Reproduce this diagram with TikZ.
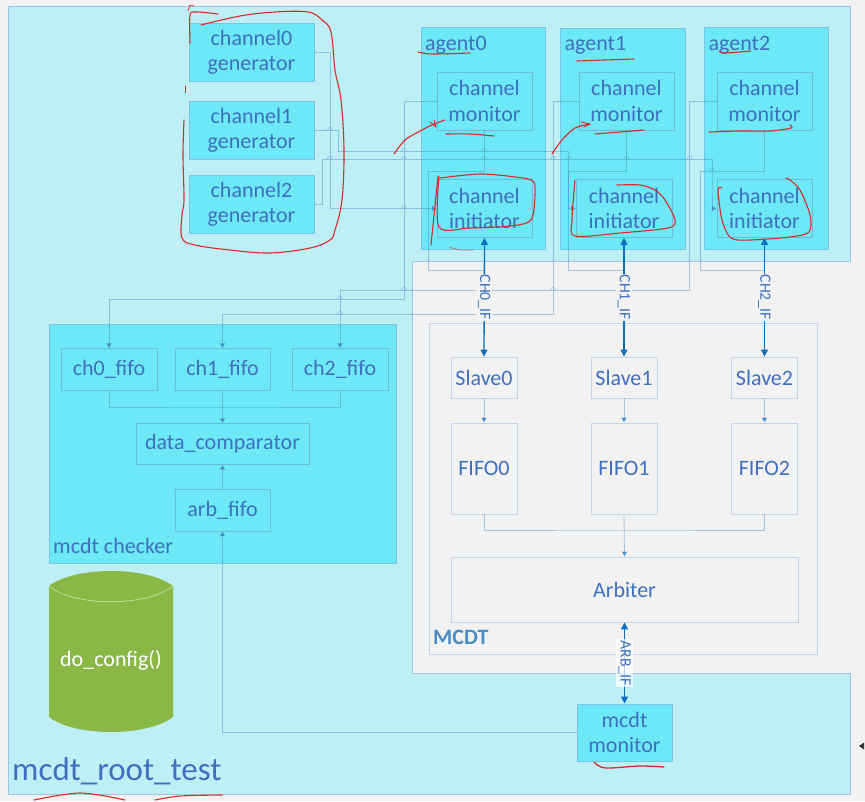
\documentclass[tikz,border=0pt]{standalone}
\usepackage{fontspec}
\setmainfont{Carlito}
\usetikzlibrary{arrows.meta}
\definecolor{pagegrey}{HTML}{F2F2F2}
\definecolor{testfill}{HTML}{BDEFF5}
\definecolor{testedge}{HTML}{9FC5E2}
\definecolor{agentfill}{HTML}{6CE8F7}
\definecolor{agentedge}{HTML}{7CC4E2}
\definecolor{subedge}{HTML}{6FBBD8}
\definecolor{dutedge}{HTML}{C3D5EB}
\definecolor{labelblue}{HTML}{3F6FBF}
\definecolor{wireblue}{HTML}{4A8CC4}
\definecolor{ifblue}{HTML}{0B6FBE}
\definecolor{cfgfill}{HTML}{8AB846}
\definecolor{penred}{HTML}{D92A2A}
\tikzset{
  every node/.style={font=\fontsize{22}{25.5}\selectfont,text=labelblue,inner sep=0pt,align=center},
  hostbox/.style={draw=agentedge,line width=.9pt,fill=agentfill},
  subbox/.style={draw=subedge,line width=.7pt},
  dutbox/.style={draw=dutedge,line width=.9pt},
  wire/.style={draw=wireblue,draw opacity=.45,line width=.8pt},
  wirearrow/.style={wire,-{Triangle[length=5pt,width=5.5pt]}},
  iflink/.style={draw=ifblue,line width=1.3pt,{Triangle[length=7pt,width=7pt]}-{Triangle[length=7pt,width=7pt]}},
  iflabel/.style={font=\fontsize{15.7}{18}\selectfont,rotate=-90,fill=pagegrey,inner xsep=1pt,inner ysep=2pt},
  penmark/.style={draw=penred,line width=1.1pt,line cap=round,line join=round},
}
\begin{document}
\begin{tikzpicture}[x=1pt,y=-1pt]
  \useasboundingbox (0,0) rectangle (865,801);
  \fill[pagegrey] (0,0) rectangle (865,801);
  % test bench outline with the cut-out for the design
  \draw[fill=testfill,draw=testedge,line width=.9pt] (8,6)--(850,6)--(850,261)--(412,261)--(412,673)--(850,673)--(850,794)--(8,794)--cycle;
  \node[anchor=base west,font=\fontsize{33}{36}\selectfont] (rootname) at (12,780.5) {mcdt\_root\_test};

  % stimulus generators
  \node[hostbox,minimum width=125pt,minimum height=58pt] (gen0) at (251.5,52) {channel0\\generator};
  \node[hostbox,minimum width=125pt,minimum height=58pt] (gen1) at (251.5,130) {channel1\\generator};
  \node[hostbox,minimum width=125pt,minimum height=58pt] (gen2) at (251.5,204) {channel2\\generator};

  % agents
  \foreach \xa/\xb/\ya in {421/545/27,560/685/28,704/828.5/27}
    \draw[hostbox] (\xa,\ya) rectangle (\xb,249.5);
  \node[anchor=base west] (agent0) at (425,50) {agent0};
  \node[anchor=base west] (agent1) at (564.5,50) {agent1};
  \node[anchor=base west] (agent2) at (708.5,50) {agent2};
  \node[subbox,minimum width=95pt,minimum height=58pt] (mon0) at (484.5,101) {channel\\monitor};
  \node[subbox,minimum width=95pt,minimum height=58pt] (mon1) at (626.5,101) {channel\\monitor};
  \node[subbox,minimum width=95pt,minimum height=58pt] (mon2) at (764.5,101) {channel\\monitor};
  \node[subbox,minimum width=95pt,minimum height=58pt] (init0) at (484.5,208.5) {channel\\initiator};
  \node[subbox,minimum width=96pt,minimum height=58pt] (init1) at (624,208.5) {channel\\initiator};
  \node[subbox,minimum width=95pt,minimum height=58pt] (init2) at (764.5,208.5) {channel\\initiator};

  % design under test
  \draw[dutbox] (429,323) rectangle (817,654);
  \node[anchor=base west,font=\fontsize{22}{25.5}\selectfont\bfseries,text=wireblue] (dutname) at (433,644) {MCDT};
  \node[dutbox,minimum width=66pt,minimum height=41pt] (slave0) at (484,377.5) {Slave0};
  \node[dutbox,minimum width=66pt,minimum height=41pt] (slave1) at (624,377.5) {Slave1};
  \node[dutbox,minimum width=66pt,minimum height=41pt] (slave2) at (764.5,377.5) {Slave2};
  \node[dutbox,minimum width=66pt,minimum height=91pt] (fifo0) at (484,468.5) {FIFO0};
  \node[dutbox,minimum width=66pt,minimum height=91pt] (fifo1) at (624,468.5) {FIFO1};
  \node[dutbox,minimum width=66pt,minimum height=91pt] (fifo2) at (764.5,468.5) {FIFO2};
  \node[dutbox,minimum width=347pt,minimum height=65pt] (arbiter) at (624.5,589.5) {Arbiter};
  \coordinate (mergedut) at (624.5,530);
  \draw[wirearrow] (slave0)--(fifo0);
  \draw[wirearrow] (slave1)--(fifo1);
  \draw[wirearrow] (slave2)--(fifo2);
  \draw[wire] (fifo0.south) |- (mergedut) -| (fifo2.south);
  \draw[wirearrow] (fifo1.south)--(arbiter.north);

  % checker
  \draw[hostbox] (49,324) rectangle (396,563);
  \node[anchor=base west] (checkname) at (53,553) {mcdt checker};
  \node[subbox,minimum width=96pt,minimum height=42pt] (chk0) at (109,369.5) {ch0\_fifo};
  \node[subbox,minimum width=95pt,minimum height=42pt] (chk1) at (222.5,369.5) {ch1\_fifo};
  \node[subbox,minimum width=96pt,minimum height=42pt] (chk2) at (340,369.5) {ch2\_fifo};
  \node[subbox,minimum width=173pt,minimum height=41pt] (compare) at (222.5,444) {data\_comparator};
  \node[subbox,minimum width=95pt,minimum height=42pt] (arbfifo) at (222.5,510) {arb\_fifo};
  \coordinate (mergechk) at (222.5,407);
  \draw[wire] (chk0.south) |- (mergechk) -| (chk2.south);
  \draw[wirearrow] (chk1.south)--(compare.north);
  \draw[wirearrow] (arbfifo.north)--(compare.south);

  % config store
  \draw[fill=cfgfill,draw=none] (49,586) .. controls (75,566) and (147,566) .. (173,586)--(173,717) .. controls (147,737) and (75,737) .. (49,717)--cycle;
  \draw[white,opacity=.6,line width=.6pt] (49,586) .. controls (75,607) and (147,607) .. (173,586);
  \node[text=white] (doconfig) at (111,660) {do\_config()};

  % bus monitor
  \node[hostbox,minimum width=95pt,minimum height=57pt] (busmon) at (624.5,732.5) {mcdt\\monitor};

  % generators to initiators
  \coordinate (g0a) at (330,208.5);
  \coordinate (g1a) at (338,151); \coordinate (g1b) at (568.5,180);
  \coordinate (g2a) at (322,159); \coordinate (g2b) at (712,180);
  \draw[wirearrow] (gen0.east) -| (g0a) -- (init0.west);
  \draw[wirearrow] (gen1.east) -| (g1a) -| (g1b) |- (init1.west);
  \draw[wirearrow] (gen2.east) -| (g2a) -| (g2b) |- (init2.west);

  % monitors to checker fifos
  \coordinate (m0a) at (404,299); \coordinate (m1a) at (553,314); \coordinate (m2a) at (689.5,290);
  \draw[wirearrow] (mon0.west) -| (m0a) -| (chk0.north);
  \draw[wirearrow] (mon1.west) -| (m1a) -| (chk1.north);
  \draw[wirearrow] (mon2.west) -| (m2a) -| (chk2.north);
  \draw[wirearrow] (busmon.west) -| (arbfifo.south);

  % interface taps
  \coordinate (tap0a) at (428,171); \coordinate (tap0b) at (484.5,270);
  \coordinate (tap1a) at (568.5,171); \coordinate (tap1b) at (624,270);
  \coordinate (tap2a) at (700,171); \coordinate (tap2b) at (764.5,270);
  \draw[wire] (mon0.south) |- (tap0a) |- (tap0b);
  \draw[wire] (mon1.south) |- (tap1a) |- (tap1b);
  \draw[wire] (mon2.south) |- (tap2a) |- (tap2b);

  % line hops
  \foreach \hx/\hy in {330/130,330/159,404/151,404/159,404/208.5,484.5/151,484.5/159,553/159,568.5/159,626.5/159,689.5/159,712/171,404/290,553/290,340/299,340/314}
    \draw[wire,line width=.6pt] (\hx-2.5,\hy) .. controls (\hx-1.5,\hy-3.5) and (\hx+1.5,\hy-3.5) .. (\hx+2.5,\hy);

  % interfaces
  \draw[iflink] (init0.south) -- node[iflabel] (lblch0) {CH0\_IF} (slave0.north);
  \draw[iflink] (init1.south) -- node[iflabel] (lblch1) {CH1\_IF} (slave1.north);
  \draw[iflink] (init2.south) -- node[iflabel] (lblch2) {CH2\_IF} (slave2.north);
  \draw[iflink] (arbiter.south) -- node[iflabel,fill=white,fill opacity=.7,text opacity=1] (lblarb) {ARB\_IF} (busmon.north);

  % pen marks on top
  \draw[penmark] plot[smooth,tension=.6] coordinates {(201,25)(240,16)(275,12)(308,12)(322,20)(331,32)(335,70)(341,100)(344,150)(342,200)(335,230)(330,240)(310,248)(270,253)(230,250)(195,245)(182,238)(182,215)(184,200)(183,155)(184,120)};
  \draw[penmark] plot[smooth,tension=.6] coordinates {(190,43)(190,16)(195,12)(218,14)};
  \draw[penmark,line width=.7pt] (188,11)--(190,5)--(194,6);
  \draw[penmark,line width=.7pt] (185.5,86)--(185.5,93);
  \draw[penmark] plot[smooth] coordinates {(418,52)(432,54)(470,53)};
  \draw[penmark] plot[smooth] coordinates {(577,61)(605,60)(634,59)};
  \draw[penmark] plot[smooth] coordinates {(719,51)(725,53)(751,51)};
  \draw[penmark] plot[smooth] coordinates {(394,154)(405,140)(420,131)(434,124)(445,120)};
  \draw[penmark,line width=.9pt] (430,122)--(436,127)--(434,120);
  \draw[penmark] plot[smooth] coordinates {(446,134)(470,134)(494,136)};
  \draw[penmark] plot[smooth] coordinates {(552,154)(562,140)(575,128)(590,124)};
  \draw[penmark,line width=.9pt] (581,122)--(590,124)--(584,127);
  \draw[penmark] plot[smooth] coordinates {(595,134)(620,132)(644,130)};
  \draw[penmark] plot[smooth] coordinates {(709,132)(740,131)(770,131)(791,128)(790,125)};
  \draw[penmark] (438,176)--(431,245);
  \draw[penmark] plot[smooth,tension=.5] coordinates {(439,177)(439,227)(470,228)(510,226)(531,220)(535,195)(533,181)(515,177)(480,174)(440,178)};
  \draw[penmark,line width=.6pt,opacity=.7] plot[smooth] coordinates {(449,247)(460,250)(473,250)};
  \draw[penmark] plot[smooth,tension=.5] coordinates {(575,180)(572,220)(575,236)(620,233)(668,228)(675,220)(665,200)(655,190)(640,185)(617,185)};
  \draw[penmark] plot[smooth,tension=.5] coordinates {(722,188)(718,190)(722,220)(731,238)(750,240)(790,237)(809,232)(810,215)(800,190)(790,180)(786,178)};
  \draw[penmark,line width=1.3pt] plot[smooth] coordinates {(594,762)(605,768)(640,766)(664,767)};
  \draw[penmark] plot[smooth] coordinates {(34,800)(55,796)(80,793)(105,796)(125,800)};
  \draw[penmark] plot[smooth] coordinates {(155,800)(180,796)(222,795)};
  % pointer at the page edge
  \fill[black!80] (859,746)--(864,742.5)--(864,749.5)--cycle;
\end{tikzpicture}
\end{document}
